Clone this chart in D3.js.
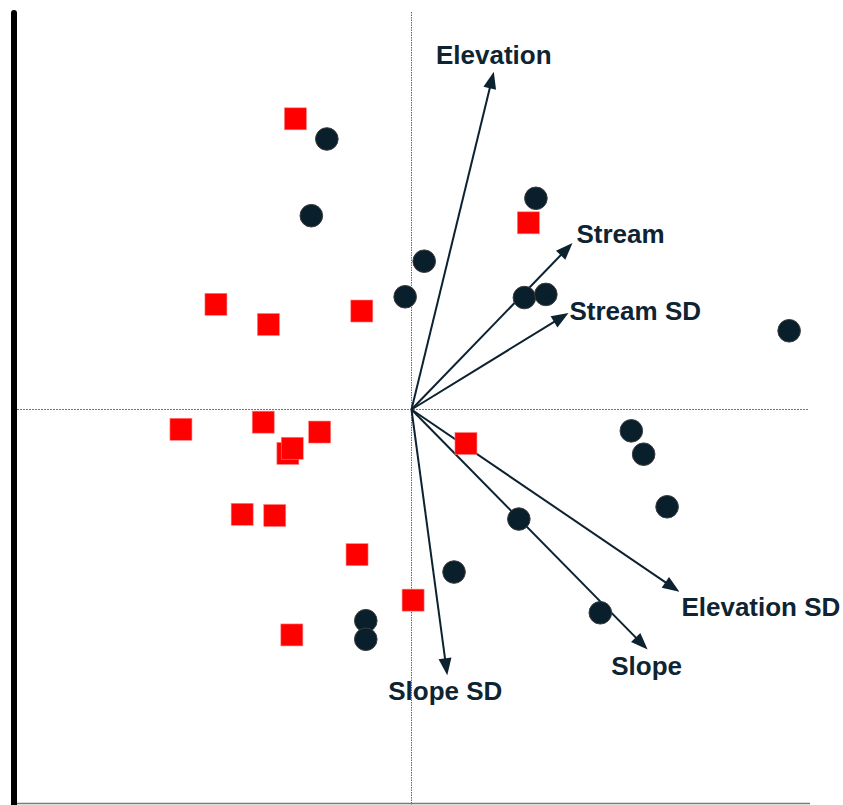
<!DOCTYPE html>
<html>
<head>
<meta charset="utf-8">
<script src="https://cdn.jsdelivr.net/npm/d3@7"></script>
<style>
  html, body { margin: 0; padding: 0; background: #fff; }
  svg { display: block; }
</style>
</head>
<body>
<svg id="chart" width="843" height="805"></svg>
<script>
// Site scores on the first two ordination axes, by group
const groupASites = [ // dark circles
  [-0.213, 0.684], [-0.252, 0.490], [0.313, 0.534], [0.032, 0.375],
  [-0.016, 0.285], [0.284, 0.283], [0.338, 0.291], [0.950, 0.199],
  [0.553, -0.054], [0.584, -0.113], [0.643, -0.246], [0.270, -0.277],
  [0.107, -0.411], [0.475, -0.514], [-0.115, -0.534], [-0.115, -0.581]
];
const groupBSites = [ // red squares
  [-0.292, 0.735], [0.294, 0.472], [-0.492, 0.266], [-0.360, 0.215],
  [-0.125, 0.249], [-0.580, -0.050], [-0.373, -0.032], [-0.231, -0.057],
  [-0.311, -0.111], [-0.300, -0.098], [0.137, -0.086], [-0.426, -0.265],
  [-0.344, -0.268], [-0.137, -0.367], [0.004, -0.482], [-0.301, -0.570]
];

// Environmental variable loadings (arrows from the origin)
const variableNames = ["Elevation", "Stream", "Stream SD", "Elevation SD", "Slope", "Slope SD"];
const loadingX = [0.207, 0.405, 0.395, 0.674, 0.594, 0.090];
const loadingY = [0.854, 0.421, 0.244, -0.461, -0.607, -0.672];

// Axis extents
const xDomain = [-1, 1];
const yDomain = [-1, 1];

const svg = d3.select("#chart");
const x = d3.scaleLinear().domain(xDomain).range([14, 809]);
const y = d3.scaleLinear().domain(yDomain).range([805, 14]);

const ink = "#0c2230";

// Reference lines through the origin
svg.append("line")
  .attr("x1", x(0)).attr("x2", x(0))
  .attr("y1", 12).attr("y2", 805)
  .attr("stroke", "#666").attr("stroke-width", 1)
  .attr("stroke-dasharray", "1.5,1");
svg.append("line")
  .attr("x1", 17).attr("x2", 808)
  .attr("y1", y(0)).attr("y2", y(0))
  .attr("stroke", "#777").attr("stroke-width", 1)
  .attr("stroke-dasharray", "2,1");

// Frame: thick left axis and thin bottom axis
svg.append("line")
  .attr("x1", 17).attr("x2", 810)
  .attr("y1", 803.5).attr("y2", 803.5)
  .attr("stroke", "#7a7a7a").attr("stroke-width", 1.6);
svg.append("line")
  .attr("x1", 14).attr("x2", 14)
  .attr("y1", 13).attr("y2", 812)
  .attr("stroke", "#000").attr("stroke-width", 6)
  .attr("stroke-linecap", "round");

// Biplot arrows
const vectors = variableNames.map((name, i) => ({ name, vx: loadingX[i], vy: loadingY[i] }));
const headLen = 17, headHalf = 6.5;
const arrows = svg.append("g");
vectors.forEach(v => {
  const x0 = x(0), y0 = y(0);
  const x1 = x(v.vx), y1 = y(v.vy);
  const dx = x1 - x0, dy = y1 - y0;
  const len = Math.hypot(dx, dy);
  const ux = dx / len, uy = dy / len;
  const bx = x1 - ux * headLen, by = y1 - uy * headLen;
  arrows.append("line")
    .attr("x1", x0).attr("y1", y0)
    .attr("x2", bx + ux * 2).attr("y2", by + uy * 2)
    .attr("stroke", ink).attr("stroke-width", 2);
  arrows.append("path")
    .attr("d", `M${x1},${y1}L${bx - uy * headHalf},${by + ux * headHalf}L${bx + uy * headHalf},${by - ux * headHalf}Z`)
    .attr("fill", ink);
});

// Label placement around the arrow tips
const labelPlacement = {
  "Elevation":    { anchor: "middle", dx: 0, dy: -8 },
  "Stream":       { anchor: "start",  dx: 4, dy: 0 },
  "Stream SD":    { anchor: "start",  dx: 1, dy: 7 },
  "Elevation SD": { anchor: "start",  dx: 2, dy: 24 },
  "Slope":        { anchor: "middle", dx: -1, dy: 25 },
  "Slope SD":     { anchor: "middle", dx: -2, dy: 25 }
};
svg.append("g")
  .selectAll("text")
  .data(vectors)
  .join("text")
  .attr("x", d => x(d.vx) + labelPlacement[d.name].dx)
  .attr("y", d => y(d.vy) + labelPlacement[d.name].dy)
  .attr("text-anchor", d => labelPlacement[d.name].anchor)
  .attr("font-family", "'Liberation Sans', Arial, sans-serif")
  .attr("font-weight", "bold")
  .attr("font-size", 26)
  .attr("fill", "#0f2432")
  .text(d => d.name);

// Site points
const sq = 22;
svg.append("g")
  .selectAll("rect")
  .data(groupBSites)
  .join("rect")
  .attr("x", d => x(d[0]) - sq / 2)
  .attr("y", d => y(d[1]) - sq / 2)
  .attr("width", sq).attr("height", sq)
  .attr("fill", "#ff0000")
  .attr("stroke", "#ff8080").attr("stroke-width", 0.6);

svg.append("g")
  .selectAll("circle")
  .data(groupASites)
  .join("circle")
  .attr("cx", d => x(d[0]))
  .attr("cy", d => y(d[1]))
  .attr("r", 11.3)
  .attr("fill", "#0a1f2c")
  .attr("stroke", "#3c3c3c").attr("stroke-width", 1);
</script>
</body>
</html>
